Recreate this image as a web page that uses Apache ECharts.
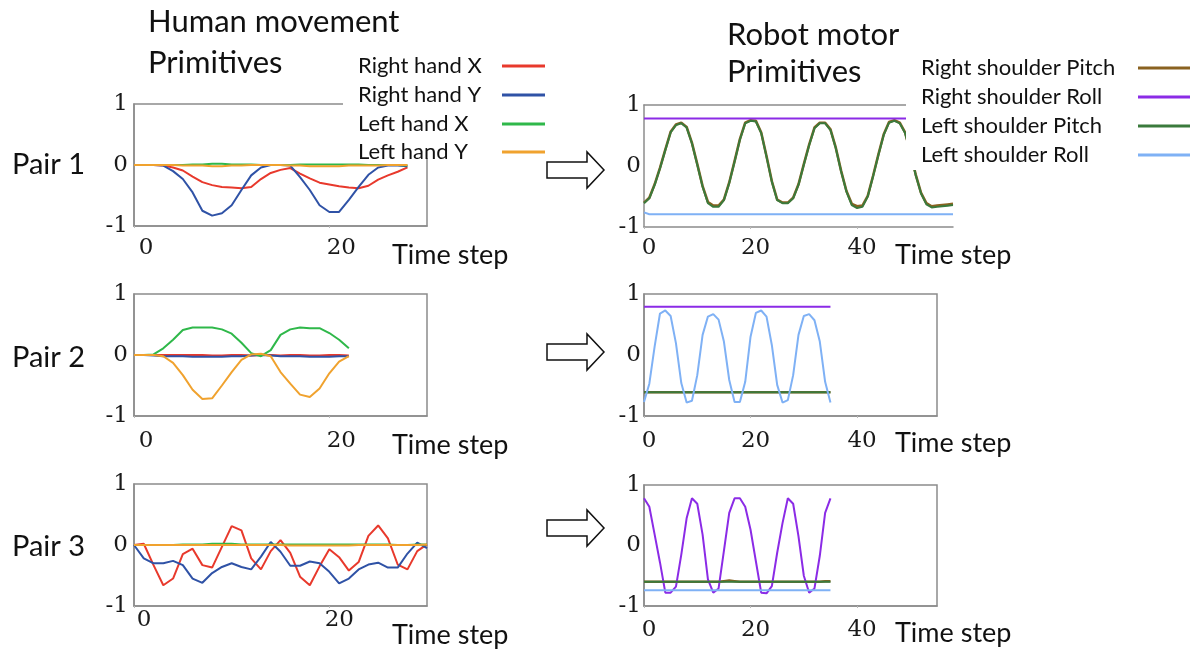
<!DOCTYPE html>
<html>
<head>
<meta charset="utf-8">
<script src="https://cdn.jsdelivr.net/npm/echarts@6/dist/echarts.min.js"></script>
<style>
  html, body { margin: 0; padding: 0; background: #fff; }
  #chart { width: 1195px; height: 652px; }
</style>
</head>
<body>
<div id="chart"></div>
<script>
// ---- Series names and colours ----
const humanNames = ['Right hand X', 'Right hand Y', 'Left hand X', 'Left hand Y'];
const humanColors = ['#e8392c', '#2f52a6', '#2fb84a', '#f0a22e'];
const robotNames = ['Right shoulder Pitch', 'Right shoulder Roll', 'Left shoulder Pitch', 'Left shoulder Roll'];
const robotColors = ['#8a6220', '#8b2be6', '#3a7a3c', '#7fb1f5'];

const pairLabels = ['Pair 1', 'Pair 2', 'Pair 3'];
const yTicks = [-1, 0, 1];
const xTickStep = 20;

// ---- Human movement primitives (one value per time step) ----
const p1RightHandX = [0, 0, 0, -0.01, -0.04, -0.09, -0.19, -0.28, -0.33, -0.36, -0.37, -0.38, -0.36, -0.23, -0.13, -0.08, -0.05, -0.14, -0.22, -0.29, -0.32, -0.35, -0.37, -0.38, -0.34, -0.24, -0.17, -0.11, -0.04];
const p1RightHandY = [0, 0, 0, -0.01, -0.1, -0.23, -0.45, -0.75, -0.83, -0.79, -0.66, -0.41, -0.17, -0.04, 0, 0, -0.01, -0.2, -0.41, -0.66, -0.77, -0.77, -0.57, -0.36, -0.16, -0.04, -0.01, -0.01, -0.02];
const p1LeftHandX = [0, 0, 0, 0, 0, 0, 0.01, 0.01, 0.02, 0.02, 0.01, 0.01, 0.01, 0, 0, 0, 0, 0.01, 0.01, 0.01, 0.01, 0.01, 0.01, 0.01, 0, 0, 0, 0, -0.01];
const p1LeftHandY = [0, 0, 0, 0, 0, -0.01, -0.01, -0.01, -0.02, -0.02, -0.01, -0.01, 0, 0, 0, 0, -0.01, -0.01, -0.02, -0.02, -0.02, -0.02, -0.01, -0.01, -0.01, -0.01, 0, 0, 0];

const p2RightHandX = [0, 0, 0, 0, 0, 0, 0, 0, -0.01, -0.01, 0, 0, -0.01, 0, 0, -0.01, 0, 0, -0.01, -0.01, 0, 0, -0.01];
const p2RightHandY = [0, 0, -0.01, -0.02, -0.02, -0.02, -0.03, -0.03, -0.03, -0.03, -0.02, -0.02, -0.01, 0, -0.01, -0.02, -0.02, -0.02, -0.03, -0.03, -0.03, -0.02, -0.02];
const p2LeftHandX = [0, 0, 0.01, 0.11, 0.25, 0.41, 0.45, 0.45, 0.45, 0.42, 0.35, 0.2, 0.03, -0.02, 0.08, 0.33, 0.42, 0.45, 0.44, 0.44, 0.36, 0.25, 0.11];
const p2LeftHandY = [0, 0, 0, -0.02, -0.13, -0.33, -0.57, -0.72, -0.71, -0.5, -0.28, -0.08, 0.01, 0.02, -0.02, -0.28, -0.47, -0.65, -0.69, -0.55, -0.3, -0.11, -0.02];

const p3RightHandX = [0, 0.02, -0.33, -0.66, -0.55, -0.15, -0.06, -0.33, -0.37, -0.03, 0.31, 0.24, -0.22, -0.4, -0.1, 0.08, -0.13, -0.52, -0.66, -0.35, -0.07, -0.2, -0.42, -0.28, 0.15, 0.32, 0.11, -0.32, -0.4, -0.1, 0.01];
const p3RightHandY = [0, -0.22, -0.3, -0.3, -0.26, -0.33, -0.55, -0.62, -0.46, -0.36, -0.3, -0.36, -0.4, -0.19, 0.05, -0.11, -0.34, -0.34, -0.27, -0.3, -0.44, -0.63, -0.55, -0.4, -0.32, -0.29, -0.37, -0.37, -0.14, 0.04, -0.05];
const p3LeftHandX = [0, 0, 0, 0, 0, 0.01, 0.01, 0.01, 0.02, 0.02, 0.02, 0.01, 0.01, 0.01, 0.01, 0.01, 0.01, 0.01, 0.01, 0.01, 0.01, 0.01, 0.01, 0.01, 0.01, 0.01, 0.01, 0, 0, 0.01, 0.01];
const p3LeftHandY = [0, 0, 0, 0, 0, 0, 0, 0, 0, 0, 0, 0, 0, 0, 0, 0, -0.01, -0.01, -0.01, -0.01, -0.01, -0.01, -0.01, 0, 0, 0, 0, 0, 0, 0, 0.01];

// ---- Robot motor primitives ----
const r1RightPitch = [-0.6, -0.52, -0.3, -0.03, 0.27, 0.56, 0.68, 0.71, 0.64, 0.38, 0.03, -0.33, -0.59, -0.65, -0.65, -0.55, -0.27, 0.08, 0.44, 0.71, 0.75, 0.74, 0.55, 0.16, -0.25, -0.55, -0.6, -0.6, -0.52, -0.3, 0.03, 0.35, 0.63, 0.71, 0.71, 0.6, 0.3, -0.08, -0.41, -0.62, -0.66, -0.65, -0.49, -0.16, 0.19, 0.52, 0.72, 0.75, 0.71, 0.55, 0.23, -0.14, -0.44, -0.61, -0.66, -0.65, -0.64, -0.63, -0.62];
const r1RightRoll = [0.78, 0.78, 0.78, 0.78, 0.78, 0.78, 0.78, 0.78, 0.78, 0.78, 0.78, 0.78, 0.78, 0.78, 0.78, 0.78, 0.78, 0.78, 0.78, 0.78, 0.78, 0.78, 0.78, 0.78, 0.78, 0.78, 0.78, 0.78, 0.78, 0.78, 0.78, 0.78, 0.78, 0.78, 0.78, 0.78, 0.78, 0.78, 0.78, 0.78, 0.78, 0.78, 0.78, 0.78, 0.78, 0.78, 0.78, 0.78, 0.78, 0.78, 0.78, 0.78, 0.78, 0.78, 0.78, 0.78, 0.78, 0.78, 0.78];
const r1LeftPitch = [-0.61, -0.53, -0.31, -0.04, 0.26, 0.55, 0.67, 0.7, 0.63, 0.37, 0.02, -0.34, -0.61, -0.67, -0.67, -0.56, -0.28, 0.07, 0.43, 0.7, 0.74, 0.73, 0.54, 0.15, -0.26, -0.56, -0.61, -0.61, -0.53, -0.31, 0.02, 0.34, 0.62, 0.7, 0.7, 0.59, 0.29, -0.09, -0.42, -0.64, -0.69, -0.67, -0.5, -0.17, 0.18, 0.51, 0.71, 0.74, 0.7, 0.54, 0.22, -0.15, -0.45, -0.63, -0.68, -0.67, -0.66, -0.65, -0.64];
const r1LeftRoll = [-0.76, -0.79, -0.79, -0.79, -0.79, -0.79, -0.79, -0.79, -0.79, -0.79, -0.79, -0.79, -0.79, -0.79, -0.79, -0.79, -0.79, -0.79, -0.79, -0.79, -0.79, -0.79, -0.79, -0.79, -0.79, -0.79, -0.79, -0.79, -0.79, -0.79, -0.79, -0.79, -0.79, -0.79, -0.79, -0.79, -0.79, -0.79, -0.79, -0.79, -0.79, -0.79, -0.79, -0.79, -0.79, -0.79, -0.79, -0.79, -0.79, -0.79, -0.79, -0.79, -0.79, -0.79, -0.79, -0.79, -0.79, -0.79, -0.79];

const r2RightPitch = [-0.61, -0.61, -0.61, -0.61, -0.61, -0.61, -0.61, -0.61, -0.61, -0.61, -0.61, -0.61, -0.61, -0.61, -0.61, -0.61, -0.61, -0.61, -0.61, -0.61, -0.61, -0.61, -0.61, -0.61, -0.61, -0.61, -0.61, -0.61, -0.61, -0.61, -0.61, -0.61, -0.61, -0.61, -0.61, -0.61];
const r2RightRoll = [0.79, 0.79, 0.79, 0.79, 0.79, 0.79, 0.79, 0.79, 0.79, 0.79, 0.79, 0.79, 0.79, 0.79, 0.79, 0.79, 0.79, 0.79, 0.79, 0.79, 0.79, 0.79, 0.79, 0.79, 0.79, 0.79, 0.79, 0.79, 0.79, 0.79, 0.79, 0.79, 0.79, 0.79, 0.79, 0.79];
const r2LeftPitch = [-0.61, -0.61, -0.61, -0.61, -0.61, -0.61, -0.61, -0.61, -0.61, -0.61, -0.61, -0.61, -0.61, -0.61, -0.61, -0.61, -0.61, -0.61, -0.61, -0.61, -0.61, -0.61, -0.61, -0.61, -0.61, -0.61, -0.61, -0.61, -0.61, -0.61, -0.61, -0.61, -0.61, -0.61, -0.61, -0.61];
const r2LeftRoll = [-0.77, -0.47, 0.14, 0.68, 0.73, 0.64, 0.19, -0.46, -0.78, -0.75, -0.33, 0.33, 0.63, 0.67, 0.58, 0.22, -0.41, -0.77, -0.77, -0.44, 0.3, 0.69, 0.73, 0.63, 0.16, -0.49, -0.78, -0.74, -0.33, 0.33, 0.64, 0.67, 0.57, 0.22, -0.44, -0.78];

const r3RightPitch = [-0.6, -0.6, -0.6, -0.6, -0.6, -0.6, -0.6, -0.6, -0.6, -0.6, -0.6, -0.6, -0.6, -0.6, -0.6, -0.59, -0.58, -0.59, -0.6, -0.6, -0.6, -0.6, -0.6, -0.6, -0.6, -0.6, -0.6, -0.6, -0.6, -0.6, -0.6, -0.6, -0.6, -0.6, -0.59, -0.59];
const r3RightRoll = [0.78, 0.64, 0.18, -0.28, -0.78, -0.78, -0.68, -0.15, 0.45, 0.78, 0.69, 0.18, -0.56, -0.78, -0.71, -0.09, 0.54, 0.78, 0.78, 0.64, 0.26, -0.26, -0.78, -0.79, -0.67, -0.12, 0.37, 0.78, 0.69, 0.15, -0.5, -0.78, -0.71, -0.17, 0.54, 0.78];
const r3LeftPitch = [-0.6, -0.6, -0.6, -0.6, -0.6, -0.6, -0.6, -0.6, -0.6, -0.6, -0.6, -0.6, -0.6, -0.6, -0.6, -0.6, -0.6, -0.6, -0.6, -0.6, -0.6, -0.6, -0.6, -0.6, -0.6, -0.6, -0.6, -0.6, -0.6, -0.6, -0.6, -0.6, -0.6, -0.6, -0.6, -0.6];
const r3LeftRoll = [-0.74, -0.74, -0.74, -0.74, -0.74, -0.74, -0.74, -0.74, -0.74, -0.74, -0.74, -0.74, -0.74, -0.74, -0.74, -0.74, -0.74, -0.74, -0.74, -0.74, -0.74, -0.74, -0.74, -0.74, -0.74, -0.74, -0.74, -0.74, -0.74, -0.74, -0.74, -0.74, -0.74, -0.74, -0.74, -0.74];

const humanPanels = [
  [p1RightHandX, p1RightHandY, p1LeftHandX, p1LeftHandY],
  [p2RightHandX, p2RightHandY, p2LeftHandX, p2LeftHandY],
  [p3RightHandX, p3RightHandY, p3LeftHandX, p3LeftHandY]
];
const robotPanels = [
  [r1RightPitch, r1RightRoll, r1LeftPitch, r1LeftRoll],
  [r2RightPitch, r2RightRoll, r2LeftPitch, r2LeftRoll],
  [r3RightPitch, r3RightRoll, r3LeftPitch, r3LeftRoll]
];

// ---- Layout of the six small plots ----
const frame = '#8c8c8c';
const serif = 'DejaVu Serif';
const sans = 'Lato';

const gridBoxes = [
  { left: 134, top: 104, width: 293, height: 122 },
  { left: 134, top: 294, width: 293, height: 122 },
  { left: 134, top: 484, width: 293, height: 122 },
  { left: 644, top: 105, width: 309, height: 122 },
  { left: 644, top: 294, width: 293, height: 122 },
  { left: 644, top: 485, width: 293, height: 121 }
];
const xMax = [30, 30, 30, 58, 55, 55];
const xLabelMargin = [11, 14, 3, 10, 14, 13];
const xLabelShift = [24, 24, 20, 10, 10, 10];
// the first robot plot is open on its right side
const closedFrame = [true, true, true, false, true, true];

const grid = gridBoxes.map((b, i) => Object.assign({ show: closedFrame[i], borderColor: frame, borderWidth: 1.5, backgroundColor: 'transparent' }, b));

const xAxis = gridBoxes.map((b, i) => ({
  type: 'value', gridIndex: i, min: 0, max: xMax[i], interval: xTickStep,
  axisLine: { show: true, onZero: false, lineStyle: { color: frame, width: 1.5 } },
  axisTick: { show: true, length: 2, lineStyle: { color: '#bbb' } },
  splitLine: { show: false },
  axisLabel: {
    showMaxLabel: false, margin: xLabelMargin[i],
    padding: [0, 0, 0, xLabelShift[i]],
    fontFamily: serif, fontSize: 23, color: '#1a1a1a'
  }
}));
// top edge of the open plot
xAxis.push({
  type: 'value', gridIndex: 3, position: 'top', min: 0, max: xMax[3],
  axisLine: { show: true, onZero: false, lineStyle: { color: frame, width: 1.5 } },
  axisTick: { show: false }, axisLabel: { show: false }, splitLine: { show: false }
});

const yAxis = gridBoxes.map((b, i) => ({
  type: 'value', gridIndex: i, min: yTicks[0], max: yTicks[2], interval: 1,
  axisLine: { show: true, lineStyle: { color: frame, width: 1.5 } },
  axisTick: { show: false },
  splitLine: { show: false },
  axisLabel: { margin: i < 3 ? 6 : 3, fontFamily: serif, fontSize: 23, color: '#1a1a1a' }
}));

const series = [];
humanPanels.forEach((panel, p) => {
  panel.forEach((vals, k) => {
    series.push({
      type: 'line', name: humanNames[k], xAxisIndex: p, yAxisIndex: p,
      data: vals.map((v, t) => [t, v]), showSymbol: false, silent: true,
      lineStyle: { color: humanColors[k], width: 2 }, itemStyle: { color: humanColors[k] }
    });
  });
});
robotPanels.forEach((panel, p) => {
  panel.forEach((vals, k) => {
    series.push({
      type: 'line', name: robotNames[k], xAxisIndex: p + 3, yAxisIndex: p + 3,
      data: vals.map((v, t) => [t, v]), showSymbol: false, silent: true,
      lineStyle: { color: robotColors[k], width: k === 0 ? 2.6 : 2 }, itemStyle: { color: robotColors[k] }
    });
  });
});

// ---- Text, legends and arrows ----
function label(text, x, y, size, align) {
  return { type: 'text', x: x, y: y, z: 100,
    style: { text: text, fontFamily: sans, fontSize: size, fill: '#111', textAlign: align || 'left', textVerticalAlign: 'middle' } };
}

function legendBlock(names, colors, box, textX, lineX0, lineX1, rowsY, size) {
  const children = [{ type: 'rect', shape: box, style: { fill: '#fff' }, z: 90 }];
  names.forEach((n, i) => {
    children.push(label(n, textX, rowsY[i], size));
    children.push({ type: 'line', z: 100, shape: { x1: lineX0, y1: rowsY[i], x2: lineX1, y2: rowsY[i] },
      style: { stroke: colors[i], lineWidth: 3 } });
  });
  return children;
}

function arrow(cy) {
  return { type: 'polygon', z: 100,
    shape: { points: [[547, cy - 8], [587, cy - 8], [587, cy - 18], [604, cy], [587, cy + 18], [587, cy + 8], [547, cy + 8]] },
    style: { fill: '#fff', stroke: '#111', lineWidth: 1.5 } };
}

const graphics = [].concat(
  legendBlock(humanNames, humanColors, { x: 343, y: 48, width: 215, height: 110 }, 358, 502, 545, [66, 95, 124, 152], 22),
  legendBlock(robotNames, robotColors, { x: 906, y: 48, width: 289, height: 122 }, 921, 1138, 1190, [68, 97, 126, 155], 22),
  [
    label('Human movement', 148, 22, 31),
    label('Primitives', 148, 63, 31),
    label('Robot motor', 727, 35, 31),
    label('Primitives', 727, 72, 31),
    label(pairLabels[0], 12, 165, 29),
    label(pairLabels[1], 12, 358, 29),
    label(pairLabels[2], 12, 547, 29),
    label('Time step', 392, 255, 27),
    label('Time step', 392, 445, 27),
    label('Time step', 392, 635, 27),
    label('Time step', 895, 255, 27),
    label('Time step', 895, 443, 27),
    label('Time step', 895, 633, 27),
    arrow(170), arrow(352), arrow(528)
  ]
);

const chart = echarts.init(document.getElementById('chart'), null, { renderer: 'canvas' });
chart.setOption({
  animation: false,
  backgroundColor: '#fff',
  grid: grid,
  xAxis: xAxis,
  yAxis: yAxis,
  series: series,
  graphic: { elements: graphics }
});
</script>
</body>
</html>
